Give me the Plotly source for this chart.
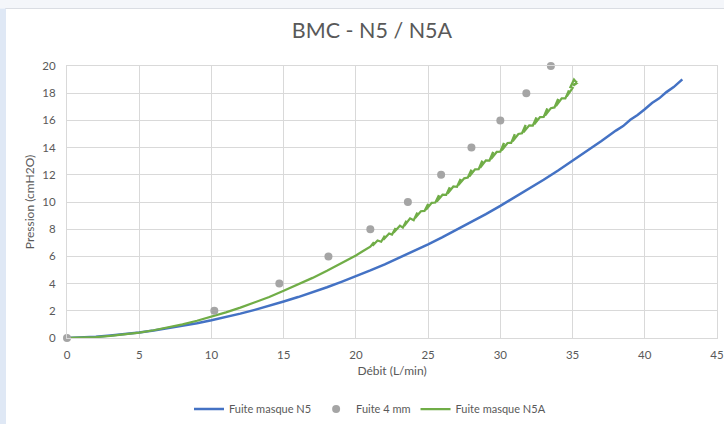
import plotly.graph_objects as go

# ---- Data ----
# Fuite masque N5 (blue)
n5_debit = [0, 1, 2, 3, 4, 5, 6, 7, 8, 9, 10, 11, 12, 13, 14, 15, 16, 17, 18, 19, 20,
            21, 22, 23, 24, 25, 26, 27, 28, 29, 30, 31, 32, 33, 34, 35, 36, 37, 38,
            38.5, 39, 39.5, 40, 40.5, 41, 41.5, 42, 42.3, 42.6]
n5_pression = [0, 0.04, 0.10, 0.19, 0.29, 0.41, 0.55, 0.71, 0.88, 1.08, 1.30, 1.53, 1.79,
               2.07, 2.36, 2.68, 3.01, 3.36, 3.73, 4.13, 4.54, 4.97, 5.42, 5.89, 6.37,
               6.88, 7.41, 7.96, 8.52, 9.11, 9.71, 10.34, 10.98, 11.64, 12.32, 13.03,
               13.75, 14.49, 15.25, 15.58, 16.05, 16.40, 16.82, 17.28, 17.62, 18.08,
               18.45, 18.72, 19.02]

# Fuite 4 mm (grey points)
f4_debit = [0, 10.2, 14.7, 18.1, 21.0, 23.6, 25.9, 28.0, 30.0, 31.8, 33.5]
f4_pression = [0, 2, 4, 6, 8, 10, 12, 14, 16, 18, 20]

# Fuite masque N5A (green, noisy measurement)
n5a_debit = [0, 1, 2, 3, 4, 5, 6, 7, 8, 9, 10, 11, 12, 13, 14, 15, 16, 17, 18, 19, 20,
             20.5, 21.00, 21.25, 21.15, 21.50, 21.75, 22.00, 21.90, 22.30, 22.50, 22.75,
             22.62, 23.05, 23.25, 23.50, 23.35, 23.75, 24.00, 24.25, 24.10, 24.50, 24.75,
             25.00, 24.85, 25.25, 25.50, 25.75, 25.60, 26.00, 26.25, 26.50, 26.35, 26.75,
             27.00, 27.25, 27.10, 27.50, 27.75, 28.00, 27.85, 28.25, 28.50, 28.75, 28.60,
             29.00, 29.25, 29.50, 29.35, 29.75, 30.00, 30.25, 30.10, 30.50, 30.75, 31.00,
             30.85, 31.25, 31.50, 31.75, 31.60, 32.00, 32.25, 32.50, 32.35, 32.75, 33.00,
             33.25, 33.10, 33.50, 33.75, 34.00, 33.85, 34.25, 34.50, 34.75, 34.60, 35.00,
             34.85, 35.10, 35.30, 35.05, 35.30]
n5a_pression = [0, 0.02, 0.07, 0.15, 0.26, 0.40, 0.57, 0.77, 1.00, 1.27, 1.56, 1.88, 2.23,
                2.61, 3.02, 3.47, 3.93, 4.42, 4.94, 5.48, 6.07,
                6.40, 6.72, 7.04, 6.78, 7.17, 7.08, 7.52, 7.22, 7.68, 7.60, 8.08,
                7.76, 8.26, 8.12, 8.62, 8.24, 8.80, 8.66, 9.22, 8.82, 9.32, 9.34,
                9.86, 9.42, 9.94, 9.96, 10.50, 10.04, 10.54, 10.52, 11.08, 10.62, 11.14,
                11.12, 11.70, 11.24, 11.74, 11.80, 12.38, 11.88, 12.40, 12.42, 13.04, 12.52,
                13.06, 13.05, 13.68, 13.16, 13.68, 13.70, 14.34, 13.80, 14.34, 14.35, 14.98,
                14.46, 15.00, 15.05, 15.66, 15.12, 15.64, 15.62, 16.22, 15.72, 16.24, 16.25,
                16.88, 16.36, 16.90, 16.95, 17.58, 17.06, 17.62, 17.62, 18.20, 17.76, 18.38,
                18.45, 19.00, 18.75, 18.55, 18.90]

x_ticks = [0, 5, 10, 15, 20, 25, 30, 35, 40, 45]
y_ticks = [0, 2, 4, 6, 8, 10, 12, 14, 16, 18, 20]

FONT = "Lato"
TXT = "#595959"
GRID = "#D9D9D9"

fig = go.Figure()
fig.add_trace(go.Scatter(x=n5_debit, y=n5_pression, mode="lines", name="Fuite masque N5",
                         line=dict(color="#4472C4", width=2.5), cliponaxis=False))
fig.add_trace(go.Scatter(x=n5a_debit, y=n5a_pression, mode="lines", name="Fuite masque N5A",
                         line=dict(color="#70AD47", width=2.25), cliponaxis=False))
fig.add_trace(go.Scatter(x=f4_debit, y=f4_pression, mode="markers", name="Fuite 4 mm",
                         marker=dict(color="#A5A5A5", size=8), cliponaxis=False))

# legend order: N5, 4 mm, N5A
fig.data[0].legendrank = 1
fig.data[2].legendrank = 2
fig.data[1].legendrank = 3

L, R, T, B = 67, 7, 66, 86
W, H = 724, 424
pw, ph = W - L - R, H - T - B

def px2x(p):
    return (p - L) / pw

def py2y(p):
    return (H - B - p) / ph

shapes = [
    dict(type="rect", xref="paper", yref="paper", x0=px2x(-5), x1=px2x(730),
         y0=py2y(8.5), y1=py2y(-5), fillcolor="#F4F6FA", line=dict(width=0), layer="below"),
    dict(type="line", xref="paper", yref="paper", x0=px2x(5), x1=px2x(730),
         y0=py2y(8.5), y1=py2y(8.5), line=dict(color="#DADDE3", width=1), layer="below"),
    dict(type="rect", xref="paper", yref="paper", x0=px2x(-5), x1=px2x(6),
         y0=py2y(430), y1=py2y(8.5), fillcolor="#DFE8F5", line=dict(width=0), layer="below"),
]

fig.update_layout(
    width=W, height=H,
    margin=dict(l=L, r=R, t=T, b=B, autoexpand=False),
    paper_bgcolor="white", plot_bgcolor="white",
    font=dict(family=FONT, color=TXT),
    title=dict(text="BMC - N5 / N5A", x=372 / W, xref="container", xanchor="center",
               y=1 - 30 / H, yref="container", yanchor="middle",
               font=dict(family=FONT, size=21.5, color=TXT)),
    legend=dict(orientation="h", x=px2x(370), xanchor="center", y=py2y(409), yanchor="middle",
                font=dict(family=FONT, size=11, color=TXT), itemwidth=30,
                traceorder="normal", bgcolor="rgba(0,0,0,0)"),
    shapes=shapes,
    showlegend=True,
)

fig.update_xaxes(range=[0, 45], tickvals=x_ticks, showgrid=True, gridcolor=GRID, gridwidth=1,
                 zeroline=False, showline=True, linecolor=GRID, linewidth=1, mirror=True,
                 automargin=False,
                 ticks="", ticklabelstandoff=6, tickfont=dict(family=FONT, size=11.5, color=TXT),
                 title=dict(text="Débit (L/min)", standoff=6,
                            font=dict(family=FONT, size=12, color=TXT)))
fig.update_yaxes(range=[0, 20], tickvals=y_ticks, showgrid=True, gridcolor=GRID, gridwidth=1,
                 zeroline=False, showline=True, linecolor=GRID, linewidth=1, mirror=True,
                 automargin=False,
                 ticks="", ticklabelstandoff=8, tickfont=dict(family=FONT, size=11.5, color=TXT),
                 title=dict(text="Pression (cmH2O)", standoff=5,
                            font=dict(family=FONT, size=12, color=TXT)))

fig.write_html("out.html", config={"displayModeBar": False},
               post_script="document.body.style.margin='0px';document.body.style.padding='0px';"
                           "document.body.style.overflow='hidden';")
